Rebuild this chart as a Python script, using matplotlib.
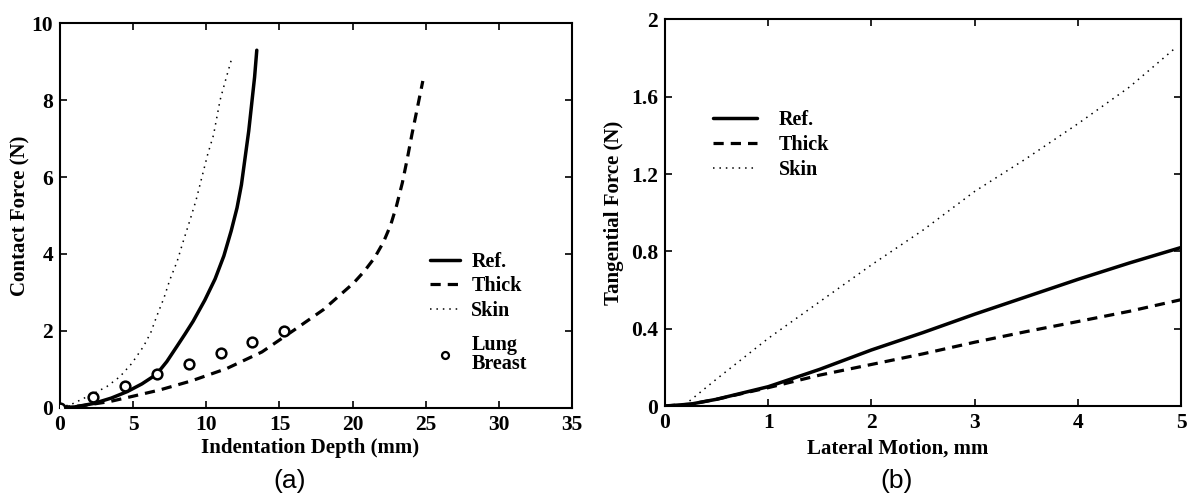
import matplotlib
matplotlib.use("Agg")
from matplotlib import pyplot as plt
from matplotlib.lines import Line2D

plt.rcParams['font.family'] = ['Liberation Serif', 'DejaVu Serif']
plt.rcParams['font.weight'] = 'bold'
plt.rcParams['axes.labelweight'] = 'bold'

# (a) contact force vs indentation depth
ref_depth = [0, 1.0, 2.3, 3.5, 4.6, 5.6, 6.6, 7.3, 7.98, 8.55, 9.1, 9.9, 10.6, 11.2,
             11.7, 12.1, 12.4, 12.65, 12.9, 13.1, 13.3, 13.45]
ref_force = [0, 0.02, 0.11, 0.25, 0.42, 0.62, 0.87, 1.2, 1.59, 1.92, 2.25, 2.8, 3.35, 3.95,
             4.6, 5.2, 5.8, 6.5, 7.2, 7.9, 8.6, 9.3]
thick_depth = [0, 1.5, 3.4, 5.0, 6.8, 9.0, 11.4, 13.8, 16.0, 18.0, 20.06, 20.8, 21.5,
               22.1, 22.6, 23.0, 23.4, 23.75, 24.05, 24.4, 24.8]
thick_force = [0, 0.05, 0.16, 0.3, 0.46, 0.7, 1.02, 1.45, 2.02, 2.55, 3.24, 3.55, 3.9,
               4.3, 4.75, 5.25, 5.85, 6.5, 7.1, 7.75, 8.5]
skin_depth = [0, 0.9, 2.3, 3.2, 4.1, 4.9, 5.7, 6.2, 6.6, 7.1, 7.5, 8.0, 8.4, 8.9,
              9.3, 9.7, 10.1, 10.49, 10.94, 11.3, 11.74]
skin_force = [0, 0.11, 0.37, 0.55, 0.81, 1.15, 1.59, 1.95, 2.37, 2.85, 3.32, 3.8, 4.3, 4.9,
              5.4, 6.0, 6.6, 7.09, 8.0, 8.5, 9.09]
lung_depth = [0, 2.28, 4.45, 6.61, 8.85, 10.99, 13.15, 15.32]
lung_force = [0, 0.29, 0.56, 0.87, 1.15, 1.43, 1.72, 2.0]

# (b) tangential force vs lateral motion
motion = [0, 0.25, 0.5, 1.0, 1.5, 2.0, 2.5, 3.0, 3.5, 4.0, 4.5, 5.0]
ref_tang = [0, 0.01, 0.035, 0.1, 0.19, 0.29, 0.38, 0.475, 0.565, 0.655, 0.74, 0.82]
thick_tang = [0, 0.01, 0.035, 0.095, 0.16, 0.215, 0.27, 0.33, 0.385, 0.437, 0.49, 0.55]
skin_motion = [0, 0.2, 0.5, 1.0, 1.5, 2.0, 2.5, 3.0, 3.5, 4.0, 4.5, 4.94]
skin_tang = [0, 0.01, 0.14, 0.35, 0.54, 0.73, 0.91, 1.11, 1.28, 1.46, 1.65, 1.85]

fig = plt.figure(figsize=(11.91, 4.98), dpi=100)
ax1 = fig.add_axes([0.0504, 0.1813, 0.4299, 0.7719])
ax2 = fig.add_axes([0.5584, 0.1847, 0.4333, 0.7765])

solid = dict(color='black', lw=2.5, solid_capstyle='round', solid_joinstyle='round')
dashed = dict(color='black', lw=2.3, dashes=(3.2, 2.2))
dotted = dict(color='black', lw=1.1, dashes=(1.0, 3.2))

ax1.plot(ref_depth, ref_force, **solid)
ax1.plot(thick_depth, thick_force, **dashed)
ax1.plot(skin_depth, skin_force, **dotted)
ax1.plot(lung_depth, lung_force, 'o', color='black', mfc='white', ms=7, mew=1.8, zorder=5)

ax2.plot(motion, ref_tang, **solid)
ax2.plot(motion, thick_tang, **dashed)
ax2.plot(skin_motion, skin_tang, **dotted)

ax1.set_xlim(0, 35)
ax1.set_ylim(0, 10)
ax1.set_xticks(range(0, 36, 5))
ax1.set_yticks(range(0, 11, 2))
ax2.set_xlim(0, 5)
ax2.set_ylim(0, 2)
ax2.set_xticks(range(0, 6))
ax2.set_yticks([0, 0.4, 0.8, 1.2, 1.6, 2])
ax2.set_yticklabels(['0', '0.4', '0.8', '1.2', '1.6', '2'])

for ax in (ax1, ax2):
    for s in ax.spines.values():
        s.set_linewidth(1.5)
    ax.tick_params(direction='in', top=True, right=True, length=5, width=1.2,
                   labelsize=15.5, pad=5)

ax1.set_xlabel('Indentation Depth (mm)', fontsize=15)
ax1.xaxis.set_label_coords(0.488, -0.08)
ax1.set_ylabel('Contact Force (N)', fontsize=15)
ax1.yaxis.set_label_coords(-0.058, 0.5)
ax2.set_xlabel('Lateral Motion, mm', fontsize=15)
ax2.xaxis.set_label_coords(0.45, -0.085)
ax2.set_ylabel('Tangential Force (N)', fontsize=15)
ax2.yaxis.set_label_coords(-0.08, 0.5)

fig.text(290 / 1191, 1 - 481 / 498, '(a)', fontsize=19, fontweight='normal',
         family='Liberation Sans', ha='center', va='center')
fig.text(897 / 1191, 1 - 481 / 498, '(b)', fontsize=19, fontweight='normal',
         family='Liberation Sans', ha='center', va='center')

# legends
lines = [Line2D([], [], **solid), Line2D([], [], **dashed), Line2D([], [], **dotted)]
names = ['Ref.', 'Thick', 'Skin']
leg1 = ax1.legend(lines, names, loc='upper left', bbox_to_anchor=(0.7227, 0.405),
                  frameon=False, fontsize=14.5, handlelength=1.5, handletextpad=0.55,
                  labelspacing=0.22, borderpad=0, borderaxespad=0)
ax1.add_artist(leg1)
marker = Line2D([], [], ls='none', marker='o', color='black', mfc='white', ms=5, mew=1.6)
leg2 = ax1.legend([marker], ['Lung\nBreast'], loc='upper left', bbox_to_anchor=(0.7227, 0.19),
                  frameon=False, fontsize=14.5, handlelength=1.5, handletextpad=0.55,
                  borderpad=0, borderaxespad=0)
leg2.get_texts()[0].set_linespacing(0.95)

ax2.legend(lines, names, loc='upper left', bbox_to_anchor=(0.093, 0.765),
           frameon=False, fontsize=14.5, handlelength=2.2, handletextpad=1.05,
           labelspacing=0.25, borderpad=0, borderaxespad=0)

fig.savefig('out.png', dpi=100)
